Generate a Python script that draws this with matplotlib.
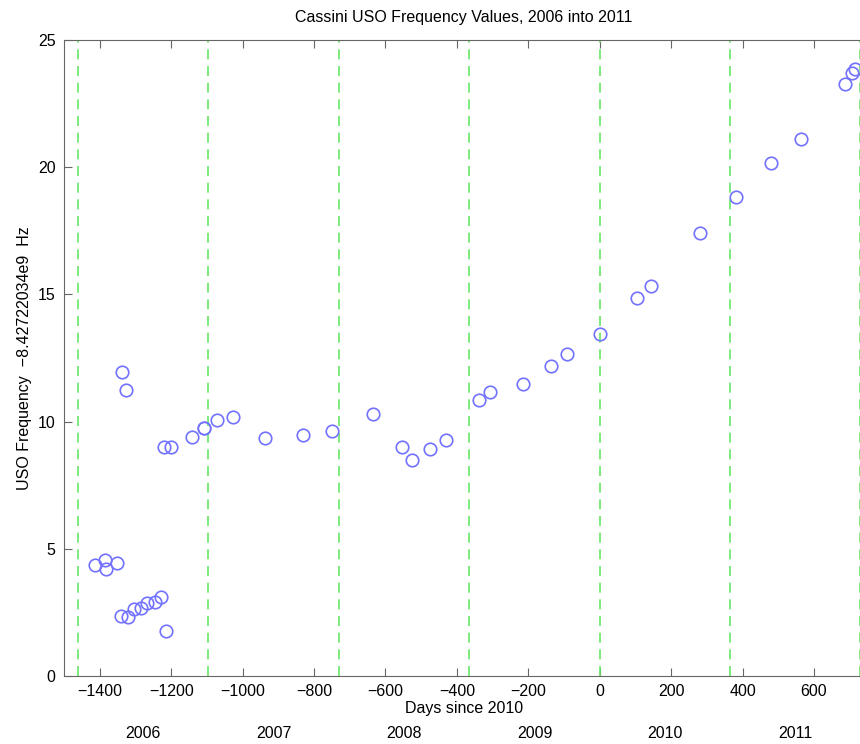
import matplotlib
matplotlib.use("Agg")
import matplotlib.pyplot as plt
import matplotlib.transforms as mtransforms

plt.rcParams['font.family'] = ['Liberation Sans', 'DejaVu Sans']

# USO frequency offsets (Hz above 8.42722034e9) vs days since 2010-01-01
days = [-1412, -1385, -1383, -1352, -1338, -1327, -1341, -1321, -1303, -1284,
        -1267, -1246, -1228, -1214, -1221, -1200, -1143, -1109, -1107, -1071,
        -1028, -936, -830, -751, -635, -555, -525, -474, -431, -338,
        -308, -215, -137, -92, 2, 103, 144, 282, 381, 479,
        563, 687, 705, 715]
freq = [4.35, 4.55, 4.21, 4.45, 11.96, 11.25, 2.35, 2.31, 2.65, 2.69,
        2.87, 2.90, 3.11, 1.77, 9.01, 9.01, 9.38, 9.74, 9.76, 10.06,
        10.17, 9.36, 9.49, 9.64, 10.31, 9.01, 8.48, 8.91, 9.29, 10.85,
        11.16, 11.48, 12.17, 12.66, 13.44, 14.86, 15.34, 17.41, 18.84, 20.18,
        21.10, 23.27, 23.69, 23.87]

# year boundaries and year labels (placed mid-year)
year_starts = [-1461, -1096, -731, -365, 0, 365, 730]
years = ["2006", "2007", "2008", "2009", "2010", "2011"]
year_mid = [-1278, -913, -548, -182, 182, 547]

fig = plt.figure(figsize=(8.6, 7.44), dpi=100)
ax = fig.add_axes([64 / 860, 68 / 744, 800 / 860, 636 / 744])

for d in year_starts:
    ax.axvline(d, color='#66e666', lw=1.2, ls=(0, (6, 4)))

ax.plot(days, freq, 'o', mfc='none', mec='#7272ff', ms=9, mew=1.2)

ax.set_xlim(-1500, 740)
ax.set_ylim(0, 25)
ax.set_xticks(range(-1400, 700, 200))
ax.set_yticks([0, 5, 10, 15, 20, 25])
ax.set_xticklabels([str(t).replace('-', '\u2212') for t in range(-1400, 700, 200)])

for s in ax.spines.values():
    s.set_color('#666666')
ax.tick_params(direction='in', length=6, color='#666666', labelsize=11.5,
               top=True, right=False, pad=6)

ax.set_title("Cassini USO Frequency Values, 2006 into 2011", fontsize=11.5, pad=13)
ax.set_xlabel("Days since 2010", fontsize=11.5, labelpad=1)
ax.set_ylabel("USO Frequency  \u22128.42722034e9  Hz", fontsize=11.5, labelpad=4)

trans = mtransforms.blended_transform_factory(ax.transData, ax.transAxes)
for x, lbl in zip(year_mid, years):
    ax.text(x, -0.09, lbl, transform=trans, ha='center', va='center', fontsize=11.5)

fig.savefig("out.png", dpi=100)
